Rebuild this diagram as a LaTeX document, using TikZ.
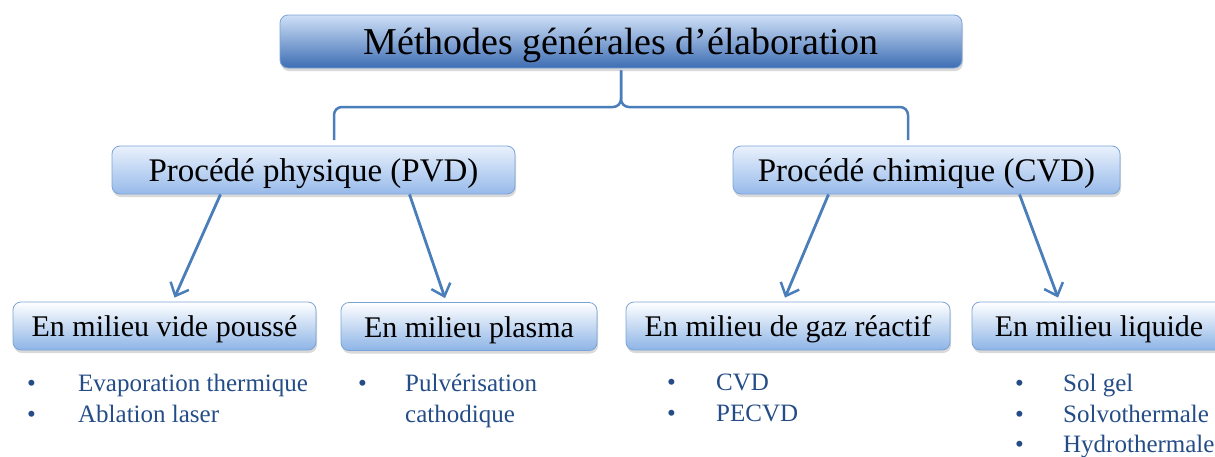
\documentclass[tikz,border=0pt]{standalone}
\usepackage{fontspec}
\setmainfont{Liberation Serif}
\usetikzlibrary{arrows.meta,shadows}
\definecolor{linkblue}{HTML}{4A7EBB}
\definecolor{boxline}{HTML}{7AA3D8}
\definecolor{itemblue}{HTML}{244C86}
\definecolor{topTop}{HTML}{CFE0F7}
\definecolor{topMid}{HTML}{86AEE2}
\definecolor{topBot}{HTML}{3D6DB3}
\definecolor{procTop}{HTML}{E9F1FC}
\definecolor{procBot}{HTML}{97BAEA}
\definecolor{envMid}{HTML}{F2F7FD}
\definecolor{envBot}{HTML}{8DB4E6}
\begin{document}
\begin{tikzpicture}[x=1pt, y=-1pt,
    box/.style={draw=boxline, line width=0.8pt, rounded corners=8pt, align=center, inner sep=0pt,
        drop shadow={shadow xshift=1pt, shadow yshift=-3pt, opacity=0.3}},
    topbox/.style={box, top color=topTop, middle color=topMid, bottom color=topBot,
        minimum width=682pt, minimum height=53pt, text height=30.4pt, text depth=3.8pt,
        font=\fontsize{38}{40}\selectfont},
    procbox/.style={box, top color=procTop, bottom color=procBot,
        minimum height=48pt, text height=26.4pt, text depth=3.3pt, font=\fontsize{33}{36}\selectfont},
    envbox/.style={box, top color=white, middle color=envMid, bottom color=envBot,
        minimum height=48pt, text height=24pt, text depth=3pt, font=\fontsize{30}{32}\selectfont},
    items/.style={anchor=north west, align=left, inner sep=0pt, text=itemblue, font=\fontsize{25}{30.5}\selectfont},
    arrow/.style={-{Straight Barb[length=11pt, width=20pt, line width=2.5pt]}, line width=2.8pt, draw=linkblue},
    brace/.style={line width=2.5pt, draw=linkblue, rounded corners=8pt}
]
    \useasboundingbox (0,0) rectangle (1215,456);

    % Titre
    \node[topbox] (top) at (621,41.5) {Méthodes générales d’élaboration};

    % Deux procedes
    \node[procbox, minimum width=403pt] (pvd) at (313.5,170) {Procédé physique (PVD)};
    \node[procbox, minimum width=387pt] (cvd) at (926.5,170) {Procédé chimique (CVD)};

    % Milieux
    \node[envbox, minimum width=303pt] (vide) at (164.5,326) {En milieu vide poussé};
    \node[envbox, minimum width=256pt] (plasma) at (469,326.5) {En milieu plasma};
    \node[envbox, minimum width=324pt] (gaz) at (788,326) {En milieu de gaz réactif};
    \node[envbox, minimum width=254pt] (liquide) at (1099,326) {En milieu liquide};

    % Listes
    \node[items] (lvide) at (27,374) {\makebox[51pt][l]{•}Evaporation thermique\\\makebox[51pt][l]{•}Ablation laser};
    \node[items] (lplasma) at (358,374) {\makebox[47pt][l]{•}Pulvérisation\\\makebox[47pt][l]{}cathodique};
    \node[items] (lgaz) at (667,374) {\makebox[49pt][l]{•}CVD\\\makebox[49pt][l]{•}PECVD};
    \node[items] (lliq) at (1015,374) {\makebox[48pt][l]{•}Sol gel\\\makebox[48pt][l]{•}Solvothermale\\\makebox[48pt][l]{•}Hydrothermale};

    % Accolade
    \coordinate (braceL) at (334,140);
    \coordinate (braceR) at (908,140);
    \draw[brace] (braceL) |- (621,107) -- ([yshift=-2pt]top.south);
    \draw[brace] (braceR) |- (621,107) -- ([yshift=-2pt]top.south);

    % Fleches
    \draw[arrow] ([xshift=-93pt]pvd.south) -- ([xshift=10pt, yshift=4pt]vide.north);
    \draw[arrow] ([xshift=96pt]pvd.south) -- ([xshift=-24pt, yshift=4pt]plasma.north);
    \draw[arrow] ([xshift=-98pt]cvd.south) -- ([xshift=-3pt, yshift=4pt]gaz.north);
    \draw[arrow] ([xshift=93pt]cvd.south) -- ([xshift=-41pt, yshift=4pt]liquide.north);
\end{tikzpicture}
\end{document}
